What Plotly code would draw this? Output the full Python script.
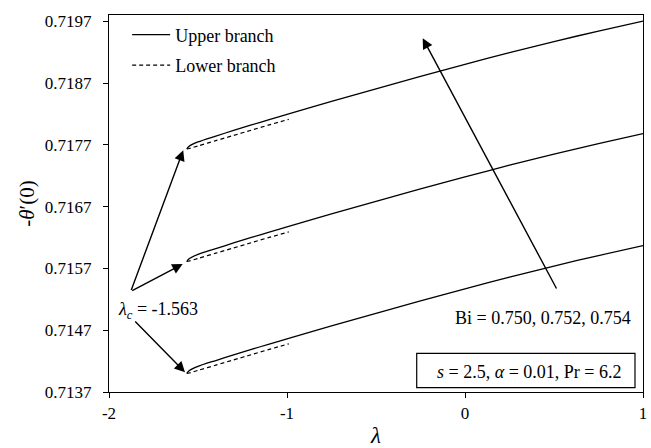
import plotly.graph_objects as go

# Upper (first) solution branch, lambda from the turning point to 1
lam_upper = [-1.563, -1.55, -1.5, -1.4, -1.3, -1.2, -1.1, -1.0, -0.75, -0.5,
             -0.25, 0.0, 0.25, 0.5, 0.75, 1.0]
upper_bi_0750 = [0.714000, 0.714045, 0.714115, 0.714210, 0.714300, 0.714390,
                 0.714475, 0.714560, 0.714770, 0.714975, 0.715175, 0.715370,
                 0.715560, 0.715740, 0.715910, 0.716070]
upper_bi_0752 = [0.715813, 0.715858, 0.715928, 0.716023, 0.716113, 0.716203,
                 0.716288, 0.716373, 0.716583, 0.716788, 0.716988, 0.717183,
                 0.717373, 0.717553, 0.717723, 0.717883]
upper_bi_0754 = [0.717635, 0.717680, 0.717750, 0.717845, 0.717935, 0.718025,
                 0.718110, 0.718195, 0.718405, 0.718610, 0.718810, 0.719005,
                 0.719195, 0.719375, 0.719545, 0.719705]

# Lower (second) solution branch near the turning point
lam_lower = [-1.563, -1.55, -1.5, -1.4, -1.3, -1.2, -1.1, -0.99]
lower_bi_0750 = [0.714000, 0.714008, 0.714050, 0.714135, 0.714220, 0.714305,
                 0.714390, 0.714480]
lower_bi_0752 = [0.715813, 0.715821, 0.715863, 0.715948, 0.716033, 0.716118,
                 0.716203, 0.716293]
lower_bi_0754 = [0.717635, 0.717643, 0.717685, 0.717770, 0.717855, 0.717940,
                 0.718025, 0.718115]

y_ticks = [0.7137, 0.7147, 0.7157, 0.7167, 0.7177, 0.7187, 0.7197]
x_ticks = [-2, -1, 0, 1]
x_tick_text = ["-2", "-1", "0", "1"]

FONT = "Liberation Serif, Times New Roman, serif"
INK = "black"

fig = go.Figure()

for i, ys in enumerate([upper_bi_0750, upper_bi_0752, upper_bi_0754]):
    fig.add_trace(go.Scatter(
        x=lam_upper, y=ys, mode="lines",
        line=dict(color=INK, width=1.3, shape="spline", smoothing=0.8),
        name="Upper branch", legendgroup="upper", showlegend=(i == 0),
    ))
for i, ys in enumerate([lower_bi_0750, lower_bi_0752, lower_bi_0754]):
    fig.add_trace(go.Scatter(
        x=lam_lower, y=ys, mode="lines",
        line=dict(color=INK, width=1.2, dash="4px,3px", shape="spline", smoothing=0.8),
        name="Lower branch", legendgroup="lower", showlegend=(i == 0),
    ))

arrow = dict(showarrow=True, arrowhead=2, arrowsize=1.5, arrowwidth=1.4,
             arrowcolor=INK, axref="x", ayref="y", xref="x", yref="y", text="")

annotations = [
    # critical point label and its three pointers
    dict(x=-1.723, y=0.71502, xref="x", yref="y", showarrow=False,
         text="<i>λ</i><sub><i>c</i></sub> = -1.563",
         font=dict(family=FONT, size=18, color=INK)),
    dict(arrow, x=lam_upper[0] - 0.02, y=upper_bi_0754[0] - 0.00002,
         ax=-1.878, ay=0.715328),
    dict(arrow, x=lam_upper[0] - 0.023, y=upper_bi_0752[0] - 0.00004,
         ax=-1.878, ay=0.715328),
    dict(arrow, x=lam_upper[0] - 0.01, y=upper_bi_0750[0] + 0.00002,
         ax=-1.861, ay=0.714866),
    # direction of increasing Bi
    dict(arrow, x=-0.2376, y=0.719428, ax=0.5185, ay=0.715352),
    dict(x=0.944, y=0.714898, xref="x", yref="y", xanchor="right",
         showarrow=False, text="Bi = 0.750, 0.752, 0.754",
         font=dict(family=FONT, size=18, color=INK)),
    # parameter box text
    dict(x=0.3596, y=0.714029, xref="x", yref="y", showarrow=False,
         text="<i>s</i> = 2.5, <i>α</i> = 0.01, Pr = 6.2",
         font=dict(family=FONT, size=18, color=INK)),
]

shapes = [
    dict(type="rect", xref="x", yref="y", x0=-0.2713, x1=0.955,
         y0=0.71377, y1=0.714327, line=dict(color=INK, width=1.2)),
]

axis_common = dict(
    showline=True, linecolor=INK, linewidth=1.4, mirror=True,
    ticks="outside", ticklen=5, tickwidth=1.3, tickcolor=INK,
    showgrid=False, zeroline=False,
    tickfont=dict(family=FONT, size=17, color=INK),
)

fig.update_layout(
    width=651, height=448,
    margin=dict(l=109, r=8, t=15, b=56),
    paper_bgcolor="white", plot_bgcolor="white",
    font=dict(family=FONT, color=INK),
    xaxis=dict(axis_common, range=[-2, 1], tickvals=x_ticks, ticktext=x_tick_text,
               title=dict(text="<i>λ</i>", font=dict(family=FONT, size=23, color=INK),
                          standoff=8),
               automargin=False),
    yaxis=dict(axis_common, range=[0.7137, 0.719805], tickvals=y_ticks,
               tickformat=".4f", ticklabelstandoff=8,
               title=dict(text="-<i>θ</i>′(0)", font=dict(family=FONT, size=21, color=INK),
                          standoff=4),
               automargin=False),
    legend=dict(x=0.034, y=0.996, xanchor="left", yanchor="top",
                bgcolor="rgba(0,0,0,0)", tracegroupgap=4, itemwidth=38,
                font=dict(family=FONT, size=18, color=INK)),
    annotations=annotations,
    shapes=shapes,
)

fig.write_html("out.html")
